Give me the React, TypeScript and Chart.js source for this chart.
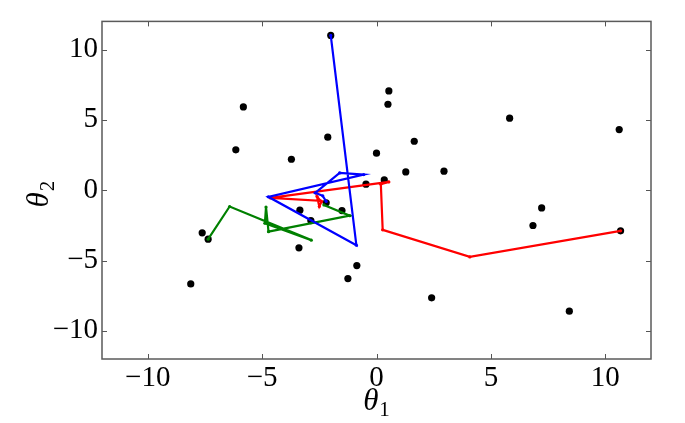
import React, { useEffect, useRef } from 'react';
import { Chart, registerables } from 'chart.js';

Chart.register(...registerables);

const xTicks = [-10, -5, 0, 5, 10];
const yTicks = [-10, -5, 0, 5, 10];

const dotsX = [-2.0, 0.54, 0.5, -5.82, 5.82, 10.61, -2.13, 1.65, -6.15, 0.0, -3.72, 1.28, 2.95, 0.34, -0.46, -2.2, -3.35, -1.51, 7.22, 6.84, -2.87, -7.62, -7.36, 10.67, -3.39, -0.86, -1.25, -8.12, 2.41, 8.43];
const dotsY = [11.0, 7.06, 6.11, 5.92, 5.12, 4.31, 3.77, 3.48, 2.87, 2.63, 2.2, 1.3, 1.35, 0.73, 0.43, -0.9, -1.42, -1.45, -1.26, -2.51, -2.16, -3.03, -3.48, -2.89, -4.1, -5.36, -6.28, -6.66, -7.65, -8.6];

const blueX = [-2.0, -0.88, -4.73, -0.56, -1.61, -2.68, -2.35, -2.2];
const blueY = [11.0, -3.91, -0.47, 1.11, 1.23, -0.19, -0.4, -0.8];

const redX = [10.67, 4.08, 0.27, 0.19, 0.54, -4.64, -2.45, -2.6, -2.5, -2.4];
const redY = [-2.89, -4.74, -2.82, 0.42, 0.59, -0.55, -0.75, -0.45, -1.15, -0.8];

const greenX = [-7.36, -6.42, -2.85, -4.88, -4.83, -4.72, -1.17, -2.3];
const greenY = [-3.48, -1.16, -3.55, -2.35, -1.2, -2.95, -1.81, -1.05];

const FONT = '"Liberation Serif"';

const pts = (xs: number[], ys: number[]) => xs.map((x, i) => ({ x, y: ys[i] }));
const fmt = (v: number) => (v < 0 ? '\u2212' + Math.abs(v) : String(v));

const framePlugin = {
  id: 'frame',
  afterDraw(chart: any) {
    const { ctx, chartArea: a, scales } = chart;
    const xs = scales.x;
    const ys = scales.y;
    ctx.save();
    ctx.strokeStyle = '#555555';
    ctx.lineWidth = 1;
    const tl = 5;
    ctx.beginPath();
    xTicks.forEach((v) => {
      const px = Math.round(xs.getPixelForValue(v)) + 0.5;
      ctx.moveTo(px, a.bottom);
      ctx.lineTo(px, a.bottom - tl);
      ctx.moveTo(px, a.top);
      ctx.lineTo(px, a.top + tl);
    });
    yTicks.forEach((v) => {
      const py = Math.round(ys.getPixelForValue(v)) + 0.5;
      ctx.moveTo(a.left, py);
      ctx.lineTo(a.left + tl, py);
      ctx.moveTo(a.right, py);
      ctx.lineTo(a.right - tl, py);
    });
    ctx.stroke();
    ctx.lineWidth = 1.5;
    ctx.strokeStyle = '#5a5a5a';
    ctx.strokeRect(a.left, a.top, a.right - a.left, a.bottom - a.top);

    // axis titles with subscripts
    ctx.fillStyle = '#000';
    ctx.textBaseline = 'alphabetic';
    const drawSub = (main: string, sub: string) => {
      ctx.font = 'italic 31px ' + FONT;
      const w1 = ctx.measureText(main).width;
      ctx.font = '21px ' + FONT;
      const w2 = ctx.measureText(sub).width;
      const total = w1 + w2 + 1;
      ctx.font = 'italic 31px ' + FONT;
      ctx.textAlign = 'left';
      ctx.fillText(main, -total / 2, 0);
      ctx.font = '21px ' + FONT;
      ctx.fillText(sub, -total / 2 + w1 + 1, 6);
    };
    const cx = (a.left + a.right) / 2;
    ctx.save();
    ctx.translate(cx, 410);
    drawSub('\u03b8', '1');
    ctx.restore();
    ctx.save();
    ctx.translate(48, ys.getPixelForValue(0) + 4);
    ctx.rotate(-Math.PI / 2);
    drawSub('\u03b8', '2');
    ctx.restore();
    ctx.restore();
  },
};

export default function App() {
  const ref = useRef<HTMLCanvasElement | null>(null);
  useEffect(() => {
    if (!ref.current) return;
    const lineDs = (xs: number[], ys: number[], color: string) => ({
      data: pts(xs, ys),
      showLine: true,
      borderColor: color,
      backgroundColor: color,
      borderWidth: 2.2,
      pointRadius: 1.6,
      pointBorderWidth: 0,
      pointBackgroundColor: color,
      order: 0,
    });
    const chart = new Chart(ref.current, {
      type: 'scatter',
      data: {
        datasets: [
          {
            data: pts(dotsX, dotsY),
            pointRadius: 3.6,
            pointBorderWidth: 0,
            backgroundColor: '#000000',
            borderColor: '#000000',
            order: 2,
          } as any,
          lineDs(blueX, blueY, '#0000ff'),
          lineDs(redX, redY, '#ff0000'),
          lineDs(greenX, greenY, '#008000'),
        ],
      },
      options: {
        animation: false,
        responsive: false,
        devicePixelRatio: 1,
        layout: { padding: { top: 20, right: 34, left: 0, bottom: 0 } },
        plugins: { legend: { display: false }, tooltip: { enabled: false } },
        scales: {
          x: {
            type: 'linear',
            min: -12,
            max: 12,
            afterBuildTicks: (s: any) => {
              s.ticks = xTicks.map((v) => ({ value: v }));
            },
            afterFit: (s: any) => {
              s.height = 64;
            },
            grid: { display: false, drawTicks: false },
            border: { display: false },
            ticks: {
              color: '#000',
              padding: 2,
              maxRotation: 0,
              autoSkip: false,
              font: { family: FONT, size: 29 },
              callback: (v: any) => fmt(Number(v)),
            },
          },
          y: {
            type: 'linear',
            min: -12,
            max: 12,
            afterBuildTicks: (s: any) => {
              s.ticks = yTicks.map((v) => ({ value: v }));
            },
            afterFit: (s: any) => {
              s.width = 102;
            },
            grid: { display: false, drawTicks: false },
            border: { display: false },
            ticks: {
              color: '#000',
              padding: 4,
              autoSkip: false,
              font: { family: FONT, size: 29 },
              callback: (v: any) => fmt(Number(v)),
            },
          },
        },
      },
      plugins: [framePlugin],
    });
    return () => chart.destroy();
  }, []);
  return (
    <div style={{ position: 'absolute', left: 0, top: 0, width: 685, height: 423, background: '#fff' }}>
      <canvas ref={ref} width={685} height={423} style={{ display: 'block', width: 685, height: 423 }} />
    </div>
  );
}
